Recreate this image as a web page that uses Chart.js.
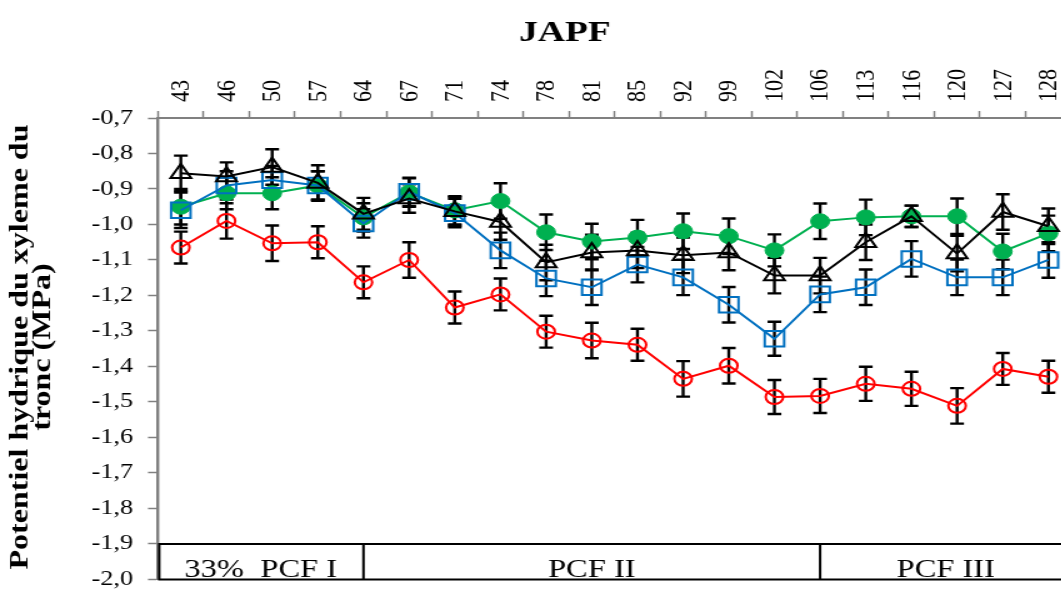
<!DOCTYPE html>
<html>
<head>
<meta charset="utf-8">
<script src="https://cdn.jsdelivr.net/npm/chart.js@4.4.1/dist/chart.umd.min.js"></script>
<style>
html, body { margin: 0; padding: 0; overflow: hidden; background: #fff; width: 1061px; height: 589px; }
/* the source figure is stretched sideways, so the whole canvas is too */
#wrap { position: absolute; left: 0; top: 0; width: 870px; height: 604px; transform: scaleX(1.25); transform-origin: 0 0; }
</style>
</head>
<body>
<div id="wrap"><canvas id="chart" width="870" height="604"></canvas></div>
<script>
// JAPF (jours)
const labels = ['43', '46', '50', '57', '64', '67', '71', '74', '78', '81', '85', '92', '99', '102', '106', '113', '116', '120', '127', '128'];

const redVals   = [-1.065, -0.990, -1.053, -1.050, -1.163, -1.100, -1.234, -1.197, -1.302, -1.327, -1.339, -1.435, -1.398, -1.486, -1.483, -1.449, -1.463, -1.511, -1.407, -1.429];
const blueVals  = [-0.960, -0.890, -0.875, -0.890, -0.997, -0.908, -0.968, -1.073, -1.152, -1.177, -1.113, -1.149, -1.226, -1.322, -1.197, -1.177, -1.097, -1.149, -1.149, -1.100];
const greenVals = [-0.950, -0.912, -0.912, -0.890, -0.980, -0.910, -0.960, -0.934, -1.022, -1.048, -1.037, -1.019, -1.033, -1.073, -0.991, -0.980, -0.977, -0.977, -1.076, -1.025];
const blackVals = [-0.856, -0.865, -0.838, -0.883, -0.970, -0.927, -0.963, -0.993, -1.107, -1.079, -1.073, -1.087, -1.079, -1.144, -1.144, -1.050, -0.977, -1.082, -0.965, -1.005];

// demi-barres d'erreur
const redErr   = [0.045, 0.050, 0.050, 0.045, 0.045, 0.050, 0.045, 0.045, 0.045, 0.050, 0.045, 0.050, 0.050, 0.048, 0.048, 0.048, 0.048, 0.050, 0.045, 0.045];
const blueErr  = [0.050, 0.040, 0.040, 0.040, 0.040, 0.040, 0.040, 0.050, 0.050, 0.050, 0.050, 0.050, 0.050, 0.048, 0.050, 0.050, 0.050, 0.050, 0.050, 0.050];
const greenErr = [0.050, 0.045, 0.045, 0.040, 0.040, 0.040, 0.040, 0.050, 0.050, 0.050, 0.050, 0.050, 0.050, 0.045, 0.050, 0.050, 0.030, 0.050, 0.050, 0.050];
const blackErr = [0.050, 0.040, 0.050, 0.050, 0.045, 0.040, 0.040, 0.050, 0.050, 0.050, 0.050, 0.050, 0.050, 0.050, 0.050, 0.050, 0.030, 0.050, 0.050, 0.050];

const yTicksMin = -2.0, yTicksMax = -0.7, yStep = 0.1;
const titleText = 'JAPF';
const yTitle = ['Potentiel hydrique du xyleme du', 'tronc (MPa)'];
const phases = [
    { from: -0.5, to: 4, text: '33%  PCF I' },
    { from: 4, to: 14, text: 'PCF II' },
    { from: 14, to: 19.5, text: 'PCF III' }
];

const serif = '"Liberation Serif", "Times New Roman", serif';

const errorBars = {
    id: 'errorBars',
    beforeDatasetsDraw(chart) {
        const ctx = chart.ctx;
        const y = chart.scales.y;
        ctx.save();
        ctx.strokeStyle = '#000';
        ctx.lineWidth = 2.4;
        chart.data.datasets.forEach((ds, i) => {
            const meta = chart.getDatasetMeta(i);
            meta.data.forEach((pt, j) => {
                const v = ds.data[j], e = ds.err[j];
                const top = y.getPixelForValue(v + e), bot = y.getPixelForValue(v - e);
                ctx.beginPath();
                ctx.moveTo(pt.x, top); ctx.lineTo(pt.x, bot);
                ctx.moveTo(pt.x - 5.5, top); ctx.lineTo(pt.x + 5.5, top);
                ctx.moveTo(pt.x - 5.5, bot); ctx.lineTo(pt.x + 5.5, bot);
                ctx.stroke();
            });
        });
        ctx.restore();
    }
};

const decor = {
    id: 'decor',
    afterDraw(chart) {
        const ctx = chart.ctx;
        const area = chart.chartArea;
        const x = chart.scales.x, y = chart.scales.y;
        ctx.save();
        ctx.fillStyle = '#000';

        // titre du haut
        ctx.font = 'bold 30px ' + serif;
        ctx.textAlign = 'center';
        ctx.textBaseline = 'alphabetic';
        ctx.fillText(titleText, 452, 41);

        // titre de l'axe y, tassé comme dans la figure
        ctx.font = 'bold 21px ' + serif;
        const sx = 445 / ctx.measureText(yTitle[0]).width;
        [17, 35].forEach((cx, i) => {
            ctx.save();
            ctx.translate(cx, 347);
            ctx.rotate(-Math.PI / 2);
            ctx.scale(sx, 1);
            ctx.textAlign = 'center';
            ctx.textBaseline = 'middle';
            ctx.fillText(yTitle[i], 0, 0);
            ctx.restore();
        });

        // bandeau des phases
        const top = y.getPixelForValue(-1.9), bot = area.bottom;
        ctx.strokeStyle = '#000';
        ctx.lineWidth = 2;
        ctx.beginPath();
        ctx.moveTo(area.left, top); ctx.lineTo(area.right, top);
        ctx.moveTo(area.left, bot); ctx.lineTo(area.right, bot);
        ctx.moveTo(area.left + 1, top); ctx.lineTo(area.left + 1, bot);
        ctx.stroke();
        ctx.font = '26px ' + serif;
        ctx.textBaseline = 'alphabetic';
        phases.forEach((p, i) => {
            const a = x.getPixelForValue(p.from), b = x.getPixelForValue(p.to);
            if (i > 0) {
                ctx.beginPath();
                ctx.moveTo(a, top); ctx.lineTo(a, bot);
                ctx.stroke();
            }
            ctx.fillText(p.text, (a + b) / 2, bot - 2);
        });
        ctx.restore();
    }
};

new Chart(document.getElementById('chart'), {
    type: 'line',
    data: {
        labels: labels,
        datasets: [
            { data: blackVals, err: blackErr, order: 0, borderColor: '#000', borderWidth: 2,
              pointStyle: 'triangle', pointRadius: 9.5, pointBorderWidth: 2, pointBorderColor: '#000', pointBackgroundColor: 'rgba(0,0,0,0)' },
            { data: blueVals, err: blueErr, order: 1, borderColor: '#0070C0', borderWidth: 2,
              pointStyle: 'rect', pointRadius: 11, pointBorderWidth: 2, pointBorderColor: '#0070C0', pointBackgroundColor: 'rgba(0,0,0,0)' },
            { data: greenVals, err: greenErr, order: 2, borderColor: '#00B050', borderWidth: 2,
              pointStyle: 'circle', pointRadius: 7.5, pointBorderWidth: 1, pointBorderColor: '#00B050', pointBackgroundColor: '#00B050' },
            { data: redVals, err: redErr, order: 3, borderColor: '#FF0000', borderWidth: 2,
              pointStyle: 'circle', pointRadius: 7, pointBorderWidth: 2, pointBorderColor: '#FF0000', pointBackgroundColor: 'rgba(0,0,0,0)' }
        ]
    },
    options: {
        responsive: false, animation: false,
        layout: { padding: { left: 0, right: 10.8, top: 0, bottom: 11 } },
        plugins: { legend: { display: false }, tooltip: { enabled: false }, title: { display: false } },
        elements: { line: { tension: 0 } },
        scales: {
            x: {
                type: 'category', position: 'top', offset: true,
                grid: { offset: true, drawOnChartArea: false, tickLength: 7, color: '#808080', tickWidth: 1.5 },
                border: { display: true, color: '#808080', width: 2 },
                ticks: { autoSkip: false, minRotation: 90, maxRotation: 90, padding: 9, labelOffset: 27, color: '#000', font: { family: serif, size: 22 } },
                afterFit(s) { s.height = 118; }
            },
            y: {
                min: yTicksMin, max: yTicksMax,
                grid: { drawOnChartArea: false, tickLength: 8, color: '#808080', tickWidth: 1.5 },
                border: { display: true, color: '#808080', width: 2.4 },
                ticks: { stepSize: yStep, padding: 12, color: '#000', font: { family: serif, size: 21 },
                         callback: v => v.toFixed(1).replace('.', ',') },
                afterFit(s) { s.width = 126.4; }
            }
        }
    },
    plugins: [errorBars, decor]
});
</script>
</body>
</html>
